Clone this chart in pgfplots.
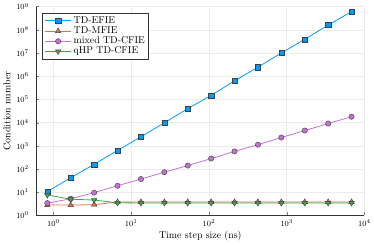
\documentclass[border=0pt]{standalone}
\usepackage{pgfplots}
\pgfplotsset{compat=1.18}
\definecolor{jblue}{HTML}{009AFA}
\definecolor{jorange}{HTML}{E36F47}
\definecolor{jpurple}{HTML}{C271D2}
\definecolor{jgreen}{HTML}{3EA44E}
\begin{document}
\begin{tikzpicture}
\begin{axis}[
  scale only axis,
  width=331bp, height=210.6bp,
  xmode=log, ymode=log,
  xmin=0.6, xmax=1e4, ymin=1, ymax=1e9,
  xtick={1,10,100,1000,10000},
  ytick={1,10,100,1000,1e4,1e5,1e6,1e7,1e8,1e9},
  xminorticks=false, yminorticks=false,
  axis x line*=bottom, axis y line*=left,
  axis line style={-, black!80},
  tick align=inside,
  major tick length=3bp,
  xmajorgrids, ymajorgrids,
  grid style={black!8, line width=0.5pt},
  tick label style={font=\footnotesize},
  yticklabel style={xshift=-4bp},
  xticklabel style={yshift=-1bp},
  xlabel={Time step size (ns)}, ylabel={Condition number},
  xlabel style={yshift=2bp},
  ylabel style={yshift=-1bp},
  legend style={at={(0,1)}, anchor=north west, xshift=5.7bp, yshift=-6.6bp,
    font=\normalsize, draw=black!80, row sep=0pt, column sep=1pt, inner xsep=2.5pt, inner ysep=2.5pt,
    nodes={inner xsep=1pt, inner ysep=1pt, text height=6.6pt, text depth=1.7pt}},
  legend cell align=left,
  legend image code/.code={\draw[mark repeat=2,mark phase=2] plot coordinates {(0cm,0cm) (0.47cm,0cm) (0.94cm,0cm)};},
  every axis plot/.append style={line width=0.8pt},
]
\addplot[color=jblue, mark=square*, mark size=2.6bp, mark options={fill=jblue, draw=black!75, line width=0.4pt}] coordinates {
(0.8333,10.6) (1.6667,42) (3.3333,160) (6.6667,630) (13.333,2450) (26.667,9800) (53.333,4.0e4) (106.67,1.5e5) (213.33,6.3e5) (426.67,2.46e6) (853.33,1.0e7) (1706.7,3.9e7) (3413.3,1.6e8) (6826.7,6.1e8)};
\addlegendentry{TD-EFIE}
\addplot[color=jorange, mark=triangle*, mark size=3.2bp, mark options={fill=jorange, draw=black!75, line width=0.4pt}] coordinates {
(0.8333,2.8) (1.6667,2.8) (3.3333,2.9) (6.6667,3.8) (13.333,3.8) (26.667,3.8) (53.333,3.8) (106.67,3.8) (213.33,3.8) (426.67,3.8) (853.33,3.8) (1706.7,3.8) (3413.3,3.8) (6826.7,3.8)};
\addlegendentry{TD-MFIE}
\addplot[color=jpurple, mark=*, mark size=2.7bp, mark options={fill=jpurple, draw=black!75, line width=0.4pt}] coordinates {
(0.8333,3.4) (1.6667,5.2) (3.3333,9.6) (6.6667,19) (13.333,37) (26.667,73) (53.333,141) (106.67,282) (213.33,575) (426.67,1120) (853.33,2280) (1706.7,4550) (3413.3,9100) (6826.7,18000)};
\addlegendentry{mixed TD-CFIE}
\addplot[color=jgreen, mark=triangle*, mark size=3.2bp, mark options={fill=jgreen, draw=black!75, line width=0.4pt, rotate=180}] coordinates {
(0.8333,7.6) (1.6667,5.0) (3.3333,4.6) (6.6667,3.5) (13.333,3.45) (26.667,3.45) (53.333,3.45) (106.67,3.45) (213.33,3.45) (426.67,3.45) (853.33,3.45) (1706.7,3.45) (3413.3,3.45) (6826.7,3.45)};
\addlegendentry{qHP TD-CFIE}
\end{axis}
\end{tikzpicture}
\end{document}
